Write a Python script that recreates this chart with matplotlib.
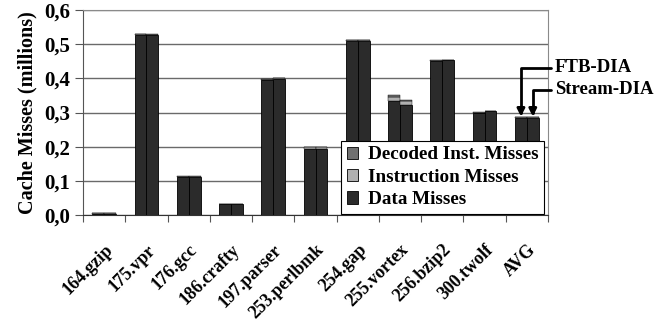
import numpy as np
import matplotlib.pyplot as plt
from matplotlib.patches import Patch
from matplotlib.transforms import ScaledTranslation

# === Data (millions of misses) ===
benchmarks = ["164.gzip", "175.vpr", "176.gcc", "186.crafty", "197.parser",
              "253.perlbmk", "254.gap", "255.vortex", "256.bzip2", "300.twolf", "AVG"]

ftb_data = [0.004, 0.528, 0.111, 0.031, 0.395, 0.193, 0.510, 0.333, 0.451, 0.299, 0.285]
ftb_instr = [0.001, 0.001, 0.001, 0.001, 0.001, 0.006, 0.001, 0.012, 0.001, 0.001, 0.002]
ftb_decoded = [0.001, 0.002, 0.001, 0.001, 0.001, 0.001, 0.001, 0.005, 0.001, 0.001, 0.001]

stream_data = [0.004, 0.527, 0.111, 0.031, 0.398, 0.193, 0.510, 0.323, 0.453, 0.303, 0.285]
stream_instr = [0.001, 0.001, 0.001, 0.001, 0.003, 0.006, 0.001, 0.010, 0.001, 0.001, 0.002]
stream_decoded = [0.001, 0.001, 0.001, 0.001, 0.001, 0.001, 0.001, 0.005, 0.001, 0.001, 0.001]

yticks = [0.0, 0.1, 0.2, 0.3, 0.4, 0.5, 0.6]
ytick_labels = ["0,0", "0,1", "0,2", "0,3", "0,4", "0,5", "0,6"]

C_DATA = "#2b2b2b"
C_INSTR = "#b0b0b0"
C_DEC = "#707070"

plt.rcParams["font.family"] = ["Liberation Serif", "DejaVu Serif"]
plt.rcParams["font.weight"] = "bold"

fig = plt.figure(figsize=(6.61, 3.22), dpi=100)
ax = fig.add_axes([83 / 661, 1 - 215 / 322, (548 - 83) / 661, (215 - 10) / 322])

x = np.arange(len(benchmarks))
w = 0.28


def stack(xpos, data, instr, dec):
    data = np.array(data)
    instr = np.array(instr)
    dec = np.array(dec)
    ax.bar(xpos, data, w, color=C_DATA, edgecolor="black", linewidth=0.6, zorder=3)
    ax.bar(xpos, instr, w, bottom=data, color=C_INSTR, edgecolor="black", linewidth=0.3, zorder=3)
    ax.bar(xpos, dec, w, bottom=data + instr, color=C_DEC, edgecolor="black", linewidth=0.3, zorder=3)


stack(x - w / 2, ftb_data, ftb_instr, ftb_decoded)
stack(x + w / 2, stream_data, stream_instr, stream_decoded)

ax.set_xlim(-0.5, len(benchmarks) - 0.5)
ax.set_ylim(0, 0.6)
ax.set_yticks(yticks)
ax.set_yticklabels(ytick_labels, fontsize=15, fontweight="bold")
ax.yaxis.grid(True, color="#6a6a6a", linewidth=1.0, zorder=0)
ax.set_axisbelow(True)

# category boundaries as ticks, labels at centres
ax.set_xticks(np.arange(len(benchmarks) + 1) - 0.5)
ax.set_xticklabels([])
ax.set_xticks(x, minor=True)
ax.set_xticklabels(benchmarks, minor=True, rotation=45, ha="right", va="top",
                   rotation_mode="anchor", fontsize=13, fontweight="bold")
shift = ScaledTranslation(-19 / 100, 0, fig.dpi_scale_trans)
for lbl in ax.get_xticklabels(minor=True):
    lbl.set_transform(lbl.get_transform() + shift)
ax.tick_params(axis="x", which="minor", length=0, pad=19)
ax.tick_params(axis="x", which="major", length=5, direction="out", color="#555555")
ax.tick_params(axis="y", length=6, direction="out", color="#555555", pad=3)

for side in ["top", "right"]:
    ax.spines[side].set_color("#8a8a8a")
ax.spines["left"].set_color("#555555")
ax.spines["bottom"].set_color("#333333")

ax.set_ylabel("Cache Misses (millions)", fontsize=14.5, fontweight="bold", labelpad=5)

handles = [Patch(facecolor=C_DEC, edgecolor="black", linewidth=0.6, label="Decoded Inst. Misses"),
           Patch(facecolor=C_INSTR, edgecolor="black", linewidth=0.6, label="Instruction Misses"),
           Patch(facecolor=C_DATA, edgecolor="black", linewidth=0.6, label="Data Misses")]
leg = ax.legend(handles=handles, loc="lower right", bbox_to_anchor=(0.992, 0.005),
                fontsize=13.8, frameon=True, fancybox=False, framealpha=1,
                handlelength=0.6, handleheight=0.6, handletextpad=0.5,
                labelspacing=0.28, borderpad=0.3, borderaxespad=0)
leg.get_frame().set_edgecolor("black")
leg.get_frame().set_linewidth(0.8)
leg.set_zorder(5)

# series call-outs on the AVG pair
avg = len(benchmarks) - 1
ftb_top = ftb_data[avg] + ftb_instr[avg] + ftb_decoded[avg]
stream_top = stream_data[avg] + stream_instr[avg] + stream_decoded[avg]
arrow = dict(arrowstyle="-|>", color="black", lw=2.0, mutation_scale=11,
             connectionstyle="angle,angleA=180,angleB=90,rad=0", shrinkA=1, shrinkB=0)
ax.annotate("FTB-DIA", xy=(avg - w / 2, ftb_top), xytext=(555, 322 - 68),
            textcoords="figure pixels", ha="left", va="center",
            fontsize=13.5, fontweight="bold", arrowprops=arrow, annotation_clip=False)
ax.annotate("Stream-DIA", xy=(avg + w / 2, stream_top), xytext=(555, 322 - 90),
            textcoords="figure pixels", ha="left", va="center",
            fontsize=13.5, fontweight="bold", arrowprops=arrow, annotation_clip=False)

fig.savefig("out.png", dpi=100)
